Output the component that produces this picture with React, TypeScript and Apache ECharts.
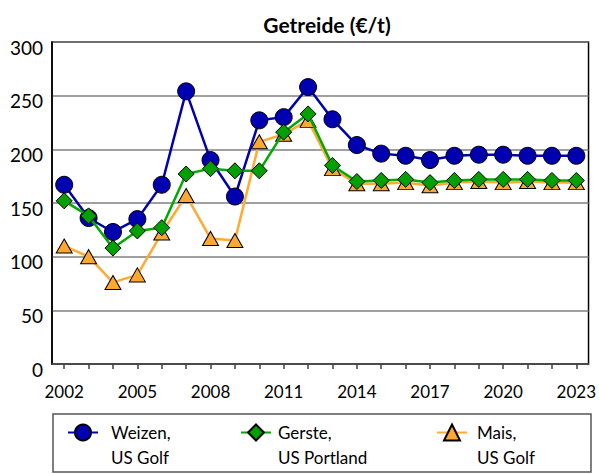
import React, { useEffect, useRef } from "react";
import * as echarts from "echarts";

const years = [
  "2002", "2003", "2004", "2005", "2006", "2007", "2008", "2009", "2010", "2011", "2012",
  "2013", "2014", "2015", "2016", "2017", "2018", "2019", "2020", "2021", "2022", "2023",
];
const weizen = [167, 136, 123, 135, 167, 254, 190, 156, 227, 230, 258, 228, 204, 196, 194, 190, 194, 195, 195, 194, 194, 194];
const gerste = [152, 138, 108, 124, 127, 177, 182, 180, 180, 216, 233, 185, 170, 171, 172, 169, 171, 172, 172, 172, 171, 171];
const mais = [110, 100, 76, 83, 122, 157, 117, 115, 207, 214, 227, 182, 168, 168, 169, 166, 169, 170, 169, 170, 169, 169];

const names = ["Weizen,\nUS Golf", "Gerste,\nUS Portland", "Mais,\nUS Golf"];
const titleText = "Getreide (€/t)";

const FONT = "Lato, 'Open Sans', sans-serif";

export default function App() {
  const ref = useRef<HTMLDivElement>(null);
  useEffect(() => {
    if (!ref.current) return;
    const chart = echarts.init(ref.current, null, { renderer: "svg" });
    const legendBase = (name: string, left: number, padLeft: number) => ({
      data: [name],
      left,
      top: 395,
      padding: 0,
      itemWidth: 30,
      itemHeight: 20,
      selectedMode: false,
      formatter: (n: string) => "\n" + n,
      textStyle: {
        fontFamily: FONT,
        fontSize: 17,
        color: "#000",
        lineHeight: 25,
        padding: [0, 0, 0, padLeft],
      },
    });
    chart.setOption({
      animation: false,
      backgroundColor: "#fff",
      title: {
        text: titleText,
        left: 322,
        textAlign: "center",
        top: 9,
        textStyle: { fontFamily: FONT, fontSize: 21, fontWeight: "bold", color: "#000" },
      },
      legend: [
        legendBase(names[0], 67, 8),
        legendBase(names[1], 240, 2),
        legendBase(names[2], 436, 5),
      ],
      graphic: [
        {
          type: "rect",
          shape: { x: 53, y: 414, width: 538, height: 58 },
          style: { fill: "none", stroke: "#555", lineWidth: 1.5 },
        },
      ],
      grid: {
        left: 52,
        right: 8,
        top: 42,
        bottom: 110,
        show: true,
        borderColor: "#000",
        borderWidth: 1.5,
        backgroundColor: "transparent",
      },
      xAxis: {
        type: "category",
        data: years,
        boundaryGap: true,
        axisLine: { lineStyle: { color: "#404040", width: 1.5 } },
        axisTick: { show: true, alignWithLabel: true, interval: 0, length: 5, lineStyle: { color: "#404040", width: 1.5 } },
        axisLabel: { interval: 2, margin: 19, fontFamily: FONT, fontSize: 17, color: "#000" },
      },
      yAxis: {
        type: "value",
        min: 0,
        max: 300,
        interval: 50,
        axisLine: { show: true, lineStyle: { color: "#000", width: 1.5 } },
        axisTick: { show: false },
        axisLabel: {
          margin: 9,
          fontFamily: FONT,
          fontSize: 19,
          color: "#000",
          verticalAlign: "top",
          lineHeight: 10,
        },
        splitLine: { lineStyle: { color: "#808080", width: 1.5 } },
      },
      series: [
        {
          name: names[2],
          type: "line",
          data: mais,
          symbol: "triangle",
          symbolSize: [16, 14],
          showAllSymbol: true,
          lineStyle: { color: "#FFAA33", width: 2.5 },
          itemStyle: { color: "#FFA830", borderColor: "#000", borderWidth: 1 },
          z: 2,
        },
        {
          name: names[0],
          type: "line",
          data: weizen,
          symbol: "circle",
          symbolSize: 17,
          showAllSymbol: true,
          lineStyle: { color: "#0000B0", width: 2.5 },
          itemStyle: { color: "#0000B0", borderColor: "#000", borderWidth: 1 },
          z: 3,
        },
        {
          name: names[1],
          type: "line",
          data: gerste,
          symbol: "diamond",
          symbolSize: 16,
          showAllSymbol: true,
          lineStyle: { color: "#00AA00", width: 2.5 },
          itemStyle: { color: "#00A000", borderColor: "#000", borderWidth: 1 },
          z: 4,
        },
      ],
    });
    return () => chart.dispose();
  }, []);
  return (
    <div
      ref={ref}
      style={{ position: "fixed", left: 0, top: 0, width: 599, height: 474 }}
    />
  );
}
